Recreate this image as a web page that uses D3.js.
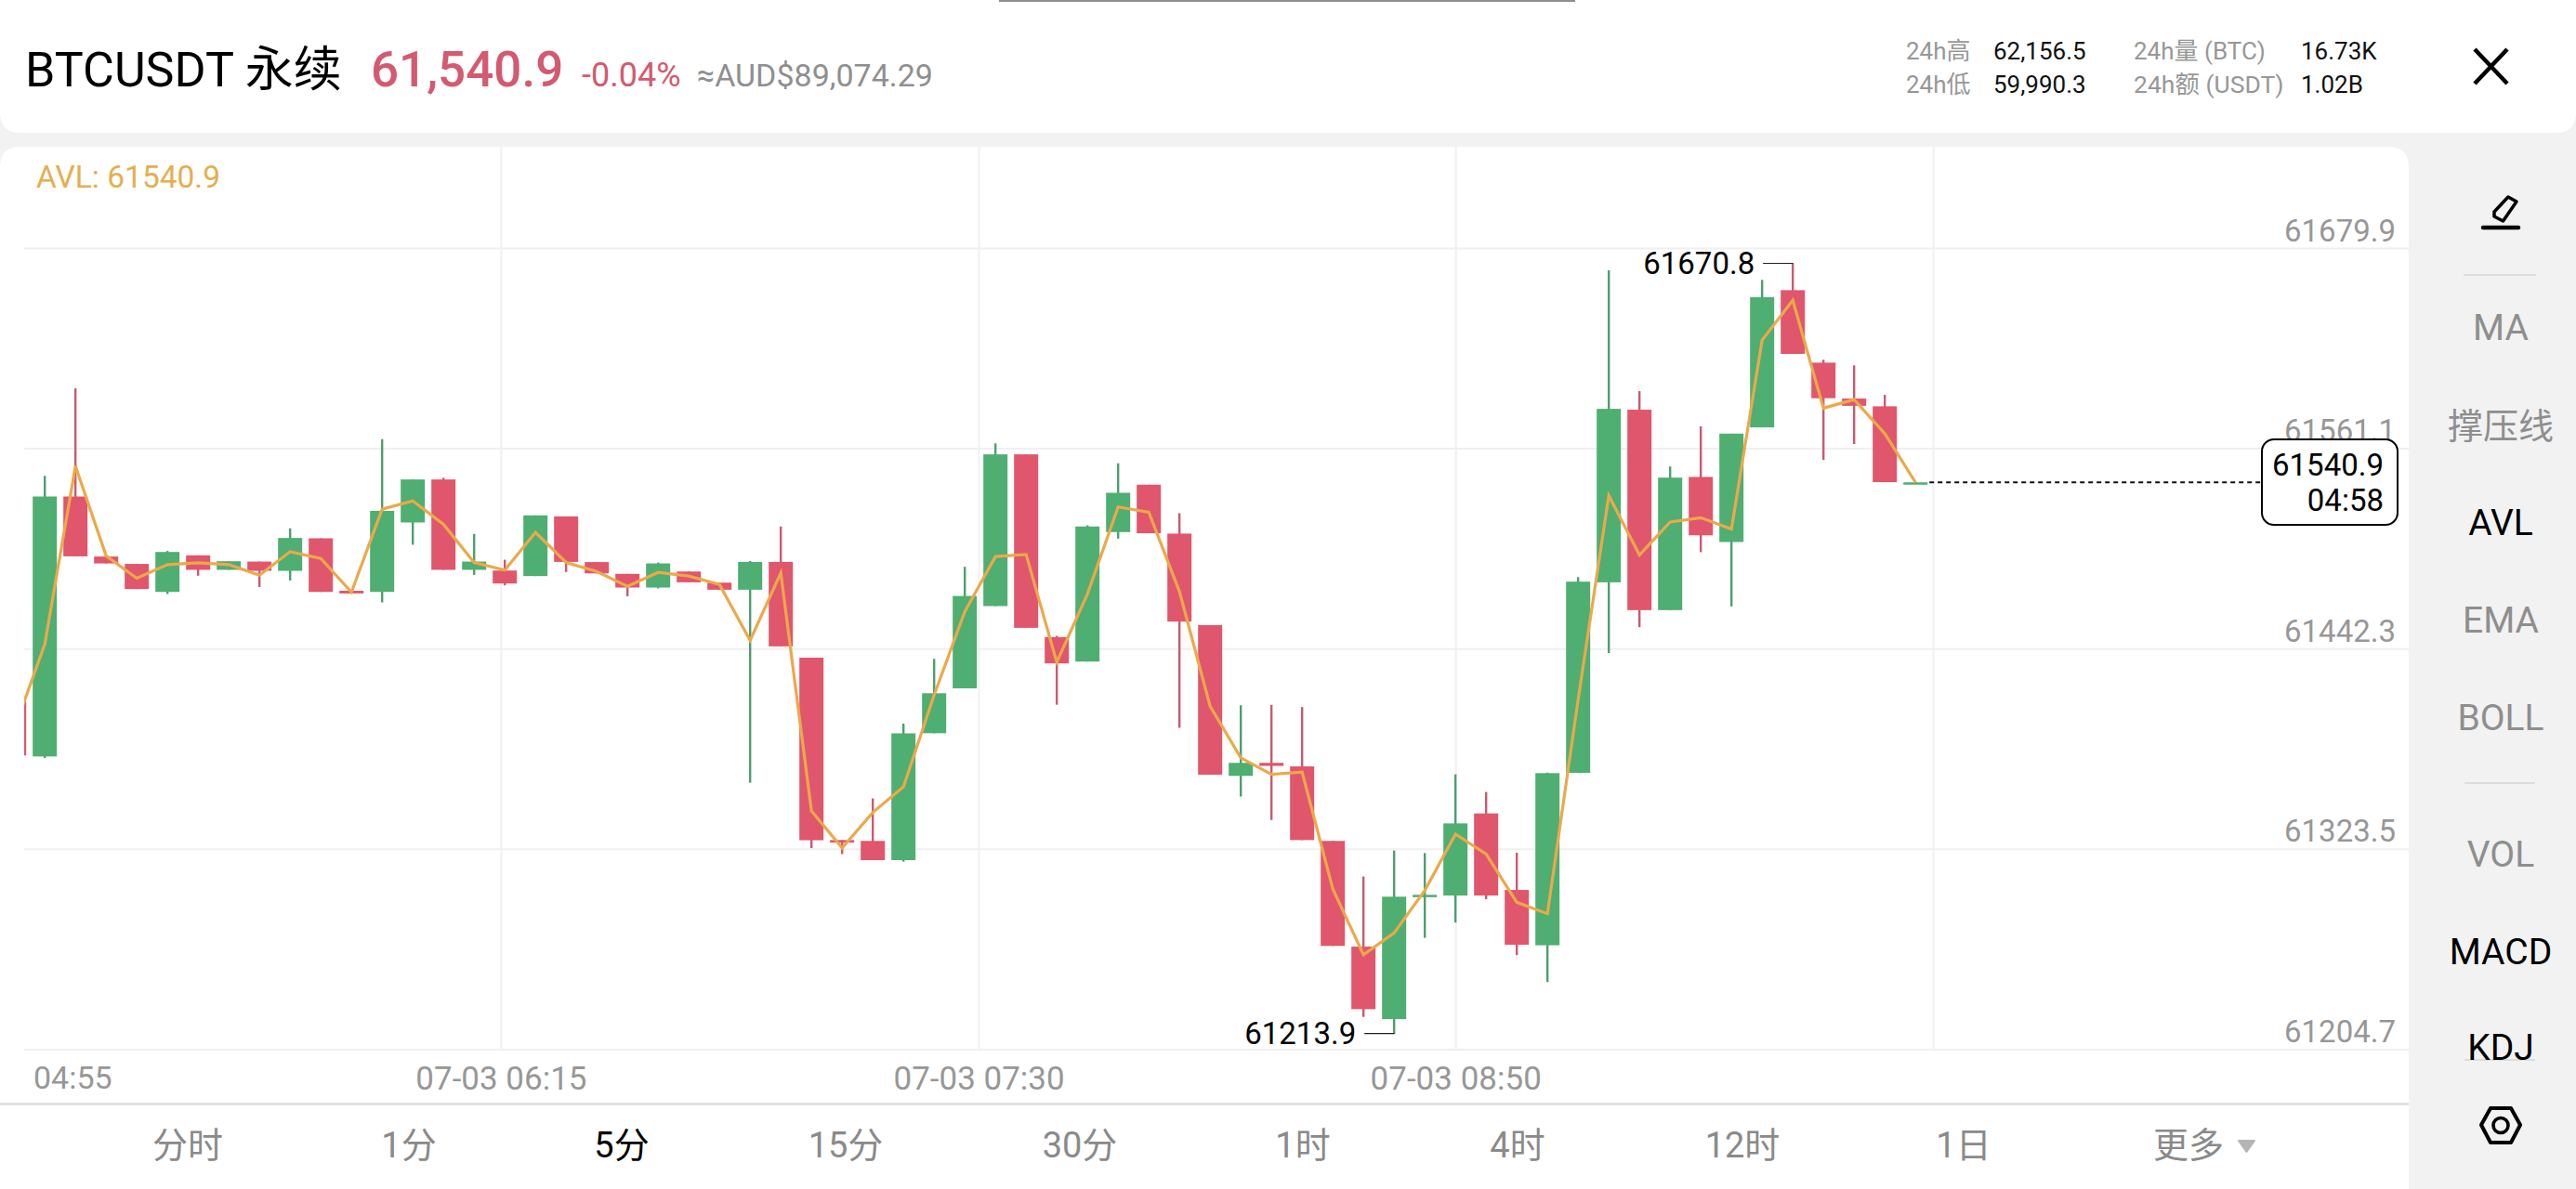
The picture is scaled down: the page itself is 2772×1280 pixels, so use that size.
<!DOCTYPE html>
<html lang="zh">
<head>
<meta charset="utf-8">
<title>BTCUSDT 永续</title>
<script src="https://cdn.jsdelivr.net/npm/d3@7/dist/d3.min.js"></script>
<style>
  html, body { margin: 0; padding: 0; background: #f2f2f2; }
  svg { display: block; }
  text { font-family: Roboto, "Noto Sans CJK SC", sans-serif; }
</style>
</head>
<body>
<svg id="chart" width="2772" height="1280"></svg>
<script>
// 5-minute candles, oldest first; the first candle sits partly off the left edge.
const opens = [61410.9,61378.3,61532.5,61496.9,61492.5,61475.9,61497.6,61489.0,61493.9,61488.4,61507.7,61476.6,61475.9,61517.1,61542.6,61489.0,61488.6,61485.3,61520.7,61493.6,61486.6,61478.5,61488.0,61481.4,61477.2,61493.7,61436.9,61328.7,61328.2,61316.8,61392.1,61418.7,61467.5,61557.5,61449.1,61434.6,61511.4,61539.5,61510.5,61456.2,61366.8,61374.5,61372.4,61328.2,61265.5,61222.5,61294.9,61295.8,61344.5,61299.1,61266.3,61368.6,61481.6,61584.0,61465.1,61544.1,61505.5,61573.5,61654.9,61611.9,61590.6,61586.0,61540.2];
const highs = [61410.9,61544.7,61596.7,61496.9,61492.5,61500.2,61497.6,61494.1,61493.9,61513.6,61507.7,61476.6,61566.5,61542.6,61543.6,61510.3,61495.0,61521.3,61520.7,61493.6,61486.6,61493.3,61488.0,61481.4,61494.2,61514.7,61436.9,61328.7,61353.4,61397.8,61436.2,61490.8,61564.0,61557.5,61449.8,61515.4,61552.2,61539.5,61522.6,61456.2,61408.7,61408.9,61407.6,61328.2,61307.1,61322.5,61321.0,61367.7,61357.2,61321.2,61368.7,61484.7,61666.7,61595.0,61550.3,61574.1,61569.8,61661.0,61670.8,61613.6,61610.3,61592.8,61540.9];
const lows = [61378.9,61377.4,61497.0,61492.8,61477.6,61474.7,61485.5,61489.0,61478.8,61482.7,61475.9,61475.0,61469.7,61503.9,61489.0,61486.0,61479.8,61485.3,61487.7,61486.9,61473.3,61478.0,61481.6,61477.2,61362.7,61443.6,61323.9,61320.4,61316.8,61315.9,61392.1,61418.7,61467.5,61454.6,61409.0,61434.6,61507.5,61510.7,61395.3,61367.5,61354.5,61340.6,61328.7,61265.9,61223.8,61213.9,61270.7,61279.8,61293.6,61260.4,61244.5,61368.6,61439.7,61455.0,61465.1,61499.5,61467.3,61573.5,61617.1,61554.2,61563.6,61541.0,61540.2];
const closes = [61378.9,61532.5,61497.0,61492.8,61477.6,61499.6,61489.0,61494.1,61488.4,61507.9,61475.9,61475.0,61524.0,61542.6,61489.0,61493.9,61480.9,61521.3,61493.7,61486.9,61478.5,61492.8,61481.6,61477.2,61493.7,61443.6,61328.6,61327.2,61316.8,61392.0,61415.8,61473.5,61557.5,61454.6,61433.5,61514.7,61534.7,61510.7,61458.3,61367.5,61374.5,61372.7,61328.7,61265.9,61228.4,61295.1,61296.2,61338.6,61295.8,61266.6,61368.4,61482.0,61584.5,61465.1,61543.7,61509.5,61569.8,61650.8,61617.1,61590.8,61586.3,61541.0,61540.9];
const avl = [61394.3,61444.9,61550.5,61497.3,61484.0,61492.1,61493.2,61492.1,61485.8,61499.8,61495.8,61475.7,61525.0,61529.9,61516.0,61493.4,61488.8,61511.2,61493.4,61488.0,61479.2,61487.5,61485.3,61480.3,61447.1,61487.1,61346.0,61324.1,61345.1,61360.3,61414.7,61464.2,61496.9,61498.1,61434.2,61474.7,61526.3,61523.2,61476.1,61408.1,61377.5,61367.7,61369.0,61299.7,61260.7,61273.6,61298.8,61332.2,61320.4,61291.8,61285.0,61412.0,61533.1,61497.8,61517.4,61519.9,61513.2,61625.3,61648.9,61584.9,61590.0,61569.8,61540.9];

const priceTicks = [61679.9, 61561.1, 61442.3, 61323.5, 61204.7];
const timeTicks = [15.87, 31.45, 47, 62.57];            // candle positions of the vertical rules
const timeLabels = ["07-03 06:15", "07-03 07:30", "07-03 08:50", ""];
const firstTime = "04:55";
const lastPrice = 61540.9;
const countdown = "04:58";
const peak = 61670.8, trough = 61213.9;
const periods = ["分时","1分","5分","15分","30分","1时","4时","12时","1日","更多"];
const periodCentres = [202,440,669,910,1162,1402,1633,1875,2113,2355];
const activePeriod = "5分";
const upperTools = ["MA","撑压线","AVL","EMA","BOLL"];
const upperBaselines = [366,472,576,681,786];
const lowerTools = ["VOL","MACD","KDJ"];
const lowerBaselines = [933,1038,1141];
const activeTools = ["AVL","MACD","KDJ"];

const GREEN = "#4fae72", RED = "#e0566c", GREEN_WICK = "#4d9f70", RED_WICK = "#c95a72";
const AMBER = "#eba94a", GRID = "#f0f0f0", GREY = "#979797";

const plot = { left: 26, right: 2592, top: 158, bottom: 1129.4 };
const svg = d3.select("#chart");

// index 0 is the clipped candle at the left edge
const x = d3.scaleLinear().domain([0, opens.length - 1]).range([15.2, 2061.2]);
const y = d3.scaleLinear().domain([priceTicks[4], priceTicks[0]]).range([plot.bottom, 267]);

// page surfaces
const round = 22;
svg.append("path").attr("fill", "#fff")
  .attr("d", `M0 0H2772V${143 - round}Q2772 143 ${2772 - round} 143H${round}Q0 143 0 ${143 - round}Z`);
svg.append("rect").attr("x", 1075).attr("y", 0).attr("width", 620).attr("height", 2).attr("fill", "#8f8f8f");
svg.append("path").attr("fill", "#fff")
  .attr("d", `M0 ${plot.top + round}Q0 ${plot.top} ${round} ${plot.top}H${plot.right - round}Q${plot.right} ${plot.top} ${plot.right} ${plot.top + round}V1280H0Z`);
svg.append("rect").attr("x", 0).attr("y", 1187).attr("width", plot.right).attr("height", 3).attr("fill", "#e2e2e2");

svg.append("defs").append("clipPath").attr("id", "plot-clip")
  .append("rect").attr("x", plot.left).attr("y", plot.top)
  .attr("width", plot.right - plot.left).attr("height", plot.bottom - plot.top);
svg.select("defs").append("clipPath").attr("id", "tool-clip")
  .append("rect").attr("x", 2600).attr("y", 300).attr("width", 172).attr("height", 841);

// price axis and horizontal rules
const yAxis = svg.append("g").attr("transform", `translate(${plot.left},0)`)
  .call(d3.axisRight(y).tickValues(priceTicks).tickSize(plot.right - plot.left).tickFormat(d => d.toFixed(1)));
yAxis.select(".domain").remove();
yAxis.selectAll("line").attr("stroke", GRID).attr("stroke-width", 2);
yAxis.selectAll("text").attr("x", 2552).attr("dy", -8).attr("text-anchor", "end")
  .attr("font-size", 33).attr("fill", GREY).style("font-family", 'Roboto, sans-serif');

// time axis and vertical rules
const xAxis = svg.append("g").attr("transform", `translate(0,${plot.bottom})`)
  .call(d3.axisBottom(x).tickValues(timeTicks).tickSize(plot.top - plot.bottom).tickPadding(19)
    .tickFormat((d, i) => timeLabels[i]));
xAxis.select(".domain").remove();
xAxis.selectAll("line").attr("stroke", GRID).attr("stroke-width", 2);
xAxis.selectAll("text").attr("font-size", 35).attr("fill", GREY).style("font-family", 'Roboto, sans-serif');
svg.append("text").attr("x", 36).attr("y", 1172).attr("font-size", 34).attr("fill", GREY).text(firstTime);

// candles
const candles = d3.range(opens.length).map(i => ({
  i, open: opens[i], high: highs[i], low: lows[i], close: closes[i], up: closes[i] >= opens[i]
}));
const bodyWidth = 26, minBody = 2.5;
const marks = svg.append("g").attr("clip-path", "url(#plot-clip)");
const candle = marks.selectAll("g").data(candles).join("g");
candle.append("line")
  .attr("x1", d => x(d.i)).attr("x2", d => x(d.i))
  .attr("y1", d => y(d.high)).attr("y2", d => y(d.low))
  .attr("stroke", d => d.up ? GREEN_WICK : RED_WICK).attr("stroke-width", 2.4);
candle.append("rect")
  .attr("x", d => x(d.i) - bodyWidth / 2).attr("width", bodyWidth)
  .attr("y", d => y(Math.max(d.open, d.close)))
  .attr("height", d => Math.max(minBody, Math.abs(y(d.open) - y(d.close))))
  .attr("fill", d => d.up ? GREEN : RED);

// average price line
marks.append("path").datum(avl)
  .attr("fill", "none").attr("stroke", AMBER).attr("stroke-width", 3.2).attr("stroke-linejoin", "miter")
  .attr("d", d3.line().x((d, i) => x(i)).y(d => y(d)));

// last price line and tag
const lastY = y(lastPrice), lastX = x(opens.length - 1);
svg.append("line").attr("x1", lastX + 15).attr("x2", 2434).attr("y1", lastY).attr("y2", lastY)
  .attr("stroke", "#111").attr("stroke-width", 2).attr("stroke-dasharray", "5 4");
svg.append("rect").attr("x", 2434).attr("y", 473).attr("width", 146).attr("height", 92).attr("rx", 13)
  .attr("fill", "#fff").attr("stroke", "#000").attr("stroke-width", 2);
svg.append("text").attr("x", 2565).attr("y", 512).attr("text-anchor", "end").attr("font-size", 33).attr("fill", "#000").text(lastPrice.toFixed(1));
svg.append("text").attr("x", 2565).attr("y", 550).attr("text-anchor", "end").attr("font-size", 33).attr("fill", "#000").text(countdown);

// high and low call-outs
function callout(value, index) {
  const py = y(value), px = x(index);
  svg.append("line").attr("x1", px - 32).attr("x2", px + 0.5).attr("y1", py).attr("y2", py)
    .attr("stroke", "#222").attr("stroke-width", 1.2);
  svg.append("text").attr("x", px - 41).attr("y", py + 11).attr("text-anchor", "end")
    .attr("font-size", 33).attr("fill", "#000").text(value.toFixed(1));
}
callout(peak, highs.indexOf(peak));
callout(trough, lows.indexOf(trough));

svg.append("text").attr("x", 39).attr("y", 202).attr("font-size", 33.5).attr("fill", "#e5ae4f").text("AVL: " + lastPrice.toFixed(1));

// header
function label(txt, px, py, size, fill, weight, anchor) {
  return svg.append("text").attr("x", px).attr("y", py).attr("font-size", size).attr("fill", fill)
    .attr("font-weight", weight || 400).attr("text-anchor", anchor || "start").text(txt);
}
label("BTCUSDT 永续", 27, 93, 52, "#000", 400);
label("61,540.9", 399, 93, 53, "#d35a70", 500);
label("-0.04%", 626, 93, 36, "#d35a70");
label("≈AUD$89,074.29", 750, 93, 34, "#8f8f8f");
label("24h高", 2051, 64, 26, GREY);
label("62,156.5", 2145, 64, 26, "#111");
label("24h量 (BTC)", 2296, 64, 26, GREY);
label("16.73K", 2476, 64, 26, "#111");
label("24h低", 2051, 100, 26, GREY);
label("59,990.3", 2145, 100, 26, "#111");
label("24h额 (USDT)", 2296, 100, 26.5, GREY);
label("1.02B", 2476, 100, 26, "#111");

svg.append("path").attr("d", "M2663 53L2698 90M2698 53L2663 90").attr("stroke", "#000").attr("stroke-width", 4.5).attr("fill", "none");

// side tool column
svg.append("path").attr("d", "M2684 228L2699 212L2708 217L2693.5 238L2684 233Z")
  .attr("fill", "none").attr("stroke", "#000").attr("stroke-width", 3.5).attr("stroke-linejoin", "round");
svg.append("line").attr("x1", 2672).attr("x2", 2710).attr("y1", 245).attr("y2", 245)
  .attr("stroke", "#000").attr("stroke-width", 4.5).attr("stroke-linecap", "round");
svg.append("rect").attr("x", 2651).attr("y", 295).attr("width", 78).attr("height", 2).attr("fill", "#dcdcdc");
svg.append("rect").attr("x", 2652).attr("y", 842).attr("width", 76).attr("height", 2).attr("fill", "#dcdcdc");
svg.append("rect").attr("x", 2652).attr("y", 1140).attr("width", 76).attr("height", 2).attr("fill", "#dcdcdc");

const tools = svg.append("g").attr("clip-path", "url(#tool-clip)");
upperTools.concat(lowerTools).forEach((t, i) => {
  tools.append("text").attr("x", 2691).attr("y", upperBaselines.concat(lowerBaselines)[i])
    .attr("text-anchor", "middle").attr("font-size", t === "撑压线" ? 38 : 39)
    .attr("fill", activeTools.includes(t) ? "#000" : "#8e8e8e").text(t);
});

svg.append("path").attr("d", "M2670 1211L2680 1193H2702L2712 1211L2702 1230H2680Z")
  .attr("fill", "none").attr("stroke", "#000").attr("stroke-width", 4).attr("stroke-linejoin", "round");
svg.append("circle").attr("cx", 2691).attr("cy", 1211.5).attr("r", 8).attr("fill", "none").attr("stroke", "#000").attr("stroke-width", 3.6);

// period selector
periods.forEach((p, i) => {
  label(p, periodCentres[i], 1246, 38, p === activePeriod ? "#000" : "#8a8a8a", 400, "middle");
});
svg.append("path").attr("d", "M2409 1228H2426L2417.5 1240Z").attr("fill", "#b5b5b5")
  .attr("stroke", "#b5b5b5").attr("stroke-width", 2).attr("stroke-linejoin", "round");
</script>
</body>
</html>
